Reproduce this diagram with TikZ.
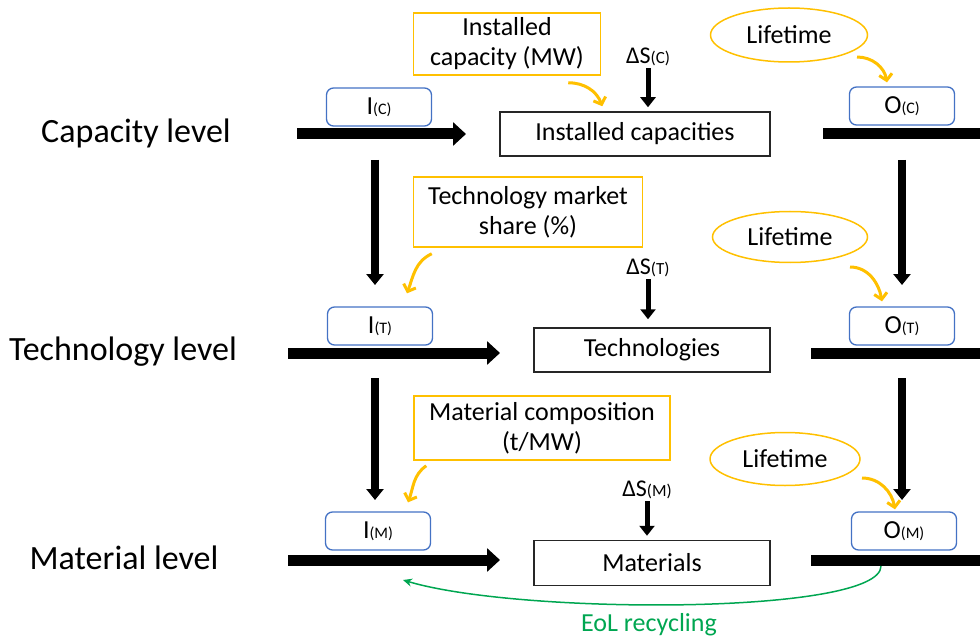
\documentclass[tikz,border=0pt]{standalone}
\usepackage{fontspec}
\setmainfont{Carlito}
\usetikzlibrary{arrows.meta,shapes.geometric,calc}
\definecolor{ybox}{RGB}{255,192,0}
\definecolor{bbox}{RGB}{68,114,196}
\definecolor{gline}{RGB}{0,166,81}
\newcommand{\subtx}[1]{{\fontsize{16}{18}\selectfont(#1)}}
\newcommand{\dsub}[1]{{\fontsize{17}{19}\selectfont(#1)}}
\begin{document}
\begin{tikzpicture}[x=1pt,y=-1pt,
 every node/.style={font=\fontsize{26}{30}\selectfont, inner sep=0pt},
 lvl/.style={font=\fontsize{34}{36}\selectfont},
 dslab/.style={font=\fontsize{24}{26}\selectfont},
 mainbox/.style={draw=black!85, line width=1.5pt, minimum height=44pt},
 iobox/.style={draw=bbox, line width=1.3pt, rounded corners=7pt, minimum width=105pt, minimum height=38pt},
 ylbox/.style={draw=ybox, line width=1.5pt, align=center},
 lifebox/.style={draw=ybox, ellipse, line width=1.5pt},
 bigarrow/.style={line width=11pt, -{Triangle[width=23pt,length=13pt]}},
 bar/.style={line width=11pt},
 downarrow/.style={line width=8pt, -{Triangle[width=17pt,length=11pt]}},
 dsarrow/.style={line width=5pt, -{Triangle[width=15pt,length=10pt]}},
 yarrow/.style={draw=ybox, line width=3pt, -{Straight Barb[length=6pt,width=13pt]}},
 garrow/.style={draw=gline, line width=1.5pt, -{Stealth[length=9pt,width=8pt]}},
]
\path[use as bounding box] (0,0) rectangle (980,639);
\clip (0,0) rectangle (980,639);

% level labels
\node[lvl] (lc) at (136,133) {Capacity level};
\node[lvl] (lt) at (123,352) {Technology level};
\node[lvl] (lm) at (124,558) {Material level};

% main boxes
\node[mainbox, minimum width=270pt] (cap) at (635,134) {Installed capacities};
\node[mainbox, minimum width=236pt] (tech) at (652,350) {Technologies};
\node[mainbox, minimum width=236pt, minimum height=45pt] (mat) at (652,563) {Materials};

% input / output boxes
\node[iobox] (iC) at (379,107) {I\subtx{C}};
\node[iobox] (iT) at (380,326) {I\subtx{T}};
\node[iobox] (iM) at (378,531) {I\subtx{M}};
\node[iobox] (oC) at (902,106) {O\subtx{C}};
\node[iobox] (oT) at (902,326) {O\subtx{T}};
\node[iobox] (oM) at (904,531) {O\subtx{M}};

% yellow parameter boxes
\node[ylbox, minimum width=187pt, minimum height=62pt] (icap) at (507,44) {Installed\\capacity (MW)};
\node[ylbox, minimum width=229pt, minimum height=70pt] (tms) at (528,212) {Technology market\\share (\%)};
\node[ylbox, minimum width=256pt, minimum height=64pt] (mc) at (542,428) {Material composition\\(t/MW)};

% lifetime ellipses
\node[lifebox, minimum width=157pt, minimum height=54pt] (l1) at (789,35) {Lifetime};
\node[lifebox, minimum width=155pt, minimum height=51pt] (l2) at (790,237) {Lifetime};
\node[lifebox, minimum width=150pt, minimum height=53pt] (l3) at (785,459) {Lifetime};

% stock changes
\node[dslab] (dC) at (648,57) {ΔS\dsub{C}};
\node[dslab] (dT) at (648,268) {ΔS\dsub{T}};
\node[dslab] (dM) at (647,490) {ΔS\dsub{M}};
\draw[dsarrow] ($(dC.south)+(0,2)$) -- ($(dC.south |- cap.north)+(0,-4)$);
\draw[dsarrow] ($(dT.south)+(0,2)$) -- ($(dT.south |- tech.north)+(0,-8)$);
\draw[dsarrow] ($(dM.south)+(0,2)$) -- ($(dM.south |- mat.north)+(0,-4)$);

% flow coordinates
\coordinate (cinS) at (297,134);
\coordinate (cinE) at (466,134);
\coordinate (coutS) at (823,134);
\coordinate (coutE) at (990,134);
\coordinate (tinS) at (288,353);
\coordinate (tinE) at (500,353);
\coordinate (toutS) at (811,353);
\coordinate (toutE) at (990,353);
\coordinate (minS) at (288,560);
\coordinate (minE) at (500,560);
\coordinate (moutS) at (811,560);
\coordinate (moutE) at (990,560);

\draw[bigarrow] (cinS) -- (cinE);
\draw[bar] (coutS) -- (coutE);
\draw[bigarrow] (tinS) -- (tinE);
\draw[bar] (toutS) -- (toutE);
\draw[bigarrow] (minS) -- (minE);
\draw[bar] (moutS) -- (moutE);

% vertical transfers
\coordinate (v1s) at (375,160);
\coordinate (v1e) at (375,285);
\coordinate (v2s) at (902,160);
\coordinate (v2e) at (902,285);
\coordinate (v3s) at (375,378);
\coordinate (v3e) at (375,500);
\coordinate (v4s) at (902,378);
\coordinate (v4e) at (902,500);
\draw[downarrow] (v1s) -- (v1e);
\draw[downarrow] (v2s) -- (v2e);
\draw[downarrow] (v3s) -- (v3e);
\draw[downarrow] (v4s) -- (v4e);

% yellow influence arrows
\draw[yarrow] ($(icap.south east)+(-33,7)$) to[out=0,in=110] ($(cap.north west)+(103,-5)$);
\draw[yarrow] ($(tms.south west)+(19,6)$) to[out=205,in=70] ($(iT.north)+(27,-13)$);
\draw[yarrow] ($(mc.south west)+(13,5)$) to[out=215,in=70] ($(iM.north)+(30,-9)$);
\draw[yarrow] ($(l1.center)+(68,22)$) to[out=0,in=100] ($(oC.north)+(-15,-4)$);
\draw[yarrow] ($(l2.center)+(60,30)$) to[out=0,in=100] ($(oT.north)+(-20,-5)$);
\draw[yarrow] ($(l3.center)+(77,19)$) to[out=0,in=100] ($(oM.north)+(-9,-2)$);

% recycling
\coordinate (rs) at (881,566);
\coordinate (re) at (403,580);
\draw[garrow] (rs) .. controls (881,615) and (520,615) .. (re);
\node[text=gline] (eol) at (649,625) {EoL recycling};
\end{tikzpicture}
\end{document}
